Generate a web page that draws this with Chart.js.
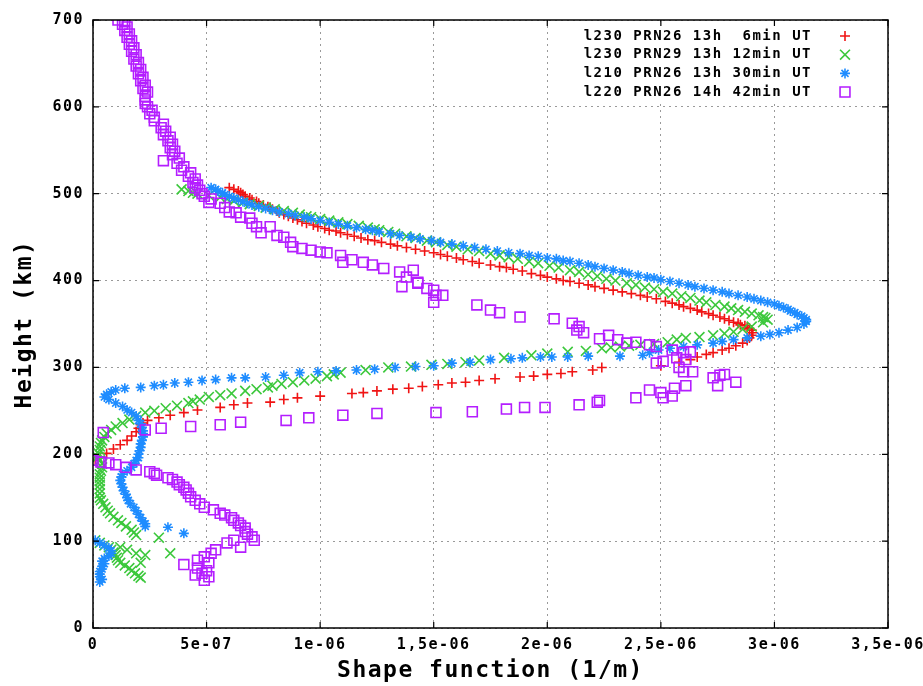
<!DOCTYPE html>
<html>
<head>
<meta charset="utf-8">
<script src="https://cdn.jsdelivr.net/npm/chart.js@4.4.1/dist/chart.umd.min.js"></script>
<style>
  html, body { margin: 0; padding: 0; background: #fff; }
  #wrap { width: 923px; height: 686px; }
</style>
</head>
<body>
<div id="wrap"><canvas id="chart" width="923" height="686"></canvas></div>
<script>
// --- 1. DATA ---
// each profile point: [height (km), shape function (x 1e-7 1/m)]
const legendLabels = [
    'l230 PRN26 13h  6min UT',
    'l230 PRN29 13h 12min UT',
    'l210 PRN26 13h 30min UT',
    'l220 PRN26 14h 42min UT'
];

const xTickValues = [0, 5e-7, 1e-6, 1.5e-6, 2e-6, 2.5e-6, 3e-6, 3.5e-6];
const xTickLabels = ['0', '5e-07', '1e-06', '1,5e-06', '2e-06', '2,5e-06', '3e-06', '3,5e-06'];
const yTickValues = [0, 100, 200, 300, 400, 500, 600, 700];
const yTickLabels = ['0', '100', '200', '300', '400', '500', '600', '700'];

const redProfile = [
    [193,0.1],[197,0.3],[201,0.6],[206,0.9],[211,1.2],[216,1.5],[221,1.7],[226,1.9],[230,2.0],[234,2.1],
    [236,2.2],[239,2.4],[242,2.9],[245,3.4],[248,4.0],[251,4.6],[254,5.6],[257,6.2],[259,6.8],[260,7.8],
    [263,8.4],[265,9.0],[267,10.0],[270,11.4],[271,11.9],[273,12.5],[275,13.2],[276,13.9],[278,14.5],[280,15.2],
    [282,15.8],[283,16.4],[285,17.0],[287,17.7],[289,18.8],[290,19.4],[292,20.0],[293,20.6],[295,21.1],[297,22.0],
    [300,22.4],[302,25.0],[306,25.8],[309,26.3],[312,26.6],[315,27.0],[317,27.3],[320,27.7],[322,28.0],[325,28.3],
    [328,28.6],[331,28.8],[334,28.9],[337,29.0],[340,29.05],[343,29.0],[346,28.8],[349,28.5],[352,28.2],[356,27.8],
    [360,27.3],[364,26.8],[368,26.3],[372,25.8],[376,25.2],[381,24.4],[385,23.7],[389,22.9],[393,22.1],[397,21.4],
    [400,20.7],[404,20.0],[408,19.3],[413,18.5],[416,17.9],[420,17.0],[424,16.3],[428,15.6],[432,15.0],[436,14.2],
    [440,13.4],[444,12.7],[447,12.1],[451,11.5],[455,10.9],[458,10.4],[462,9.9],[466,9.4],[470,9.0],[474,8.6],
    [478,8.2],[482,7.9],[485,7.7],[489,7.3],[493,7.0],[497,6.7],[501,6.5],[505,6.2],[507,6.0],
    // denser readings along the upper band
    [345,28.9],[348,28.7],[351,28.4],[354,28.0],[358,27.6],[362,27.1],[366,26.6],[370,26.0],[374,25.5],[379,24.8],
    [383,24.1],[387,23.3],[391,22.5],[395,21.8],[399,21.0],[402,20.4],[406,19.7],[411,18.9],[415,18.2],[418,17.5],
    [422,16.7],[426,16.0],[430,15.3],[434,14.6],[438,13.8],[442,13.1],[446,12.4],[449,11.8],[453,11.2],[457,10.7],
    [460,10.2],[464,9.7],[468,9.2],[472,8.8],[476,8.4],[480,8.1],[484,7.8],[487,7.5],[491,7.2],[495,6.9],[499,6.6],[503,6.4]
];

const greenProfile = [
    [58,2.1],[60,2.0],[63,1.85],[66,1.7],[69,1.6],[72,1.4],[75,1.2],[78,1.1],[81,1.05],[84,1.0],
    [87,0.9],[90,0.8],[93,0.7],[95,0.5],[98,0.3],[101,0.1],[104,2.9],[84,2.3],[86,3.4],[75,2.1],
    [93,1.2],[90,1.5],[86,1.9],
    [107,1.9],[110,1.8],[113,1.7],[117,1.45],[121,1.25],[124,1.1],[128,0.9],[132,0.75],[135,0.65],[139,0.55],
    [143,0.45],[147,0.35],[150,0.3],[155,0.3],[160,0.3],[165,0.3],[169,0.3],[173,0.3],[177,0.3],[181,0.35],
    [185,0.4],[189,0.4],[193,0.3],[197,0.2],[201,0.25],[205,0.3],[209,0.3],[213,0.35],[216,0.4],[220,0.5],
    [224,0.6],[228,0.8],[232,1.0],[236,1.3],[240,1.6],[244,1.9],[248,2.3],[250,2.7],[253,3.2],[256,3.7],
    [259,4.2],[261,4.4],[263,4.7],[266,5.1],[268,5.6],[270,6.1],[273,6.7],[275,7.2],[277,7.7],[279,7.9],
    [281,8.3],[283,8.8],[285,9.3],[287,9.8],[290,10.3],[292,10.6],[294,10.9],[297,12.0],[300,13.0],[301,14.0],
    [303,14.9],[304,15.6],[306,16.4],[308,17.0],[311,18.1],[314,19.3],[316,20.0],[318,20.9],[319,21.7],[322,22.4],
    [323,22.8],[324,23.2],[325,23.6],[326,24.1],[327,24.7],[329,25.3],[332,25.7],[334,26.1],[335,26.7],[337,27.3],
    [339,27.8],[341,28.2],[344,28.6],[347,29.0],[352,29.5],
    [355,29.7],[358,29.5],[362,29.0],[366,28.4],[370,27.8],[375,27.0],[380,26.3],[385,25.5],[390,24.7],[395,23.9],
    [400,23.0],[405,22.2],[410,21.4],[415,20.5],[420,19.6],[425,18.7],[429,17.9],[434,17.0],[439,16.0],[444,15.1],
    [449,14.2],[454,13.3],[458,12.6],[461,12.1],[465,11.2],[469,10.4],[473,9.6],[476,9.1],[480,8.4],[484,7.6],
    [488,6.9],[492,6.2],[496,5.6],[500,4.6],[503,4.2],[505,3.9],
    // denser readings along the upper band
    [357,29.6],[360,29.3],[364,28.7],[368,28.1],[372,27.4],[377,26.7],[382,25.9],[387,25.1],[392,24.3],[397,23.5],
    [402,22.6],[407,21.8],[412,21.0],[417,20.1],[422,19.2],[427,18.3],[431,17.5],[436,16.5],[441,15.6],[446,14.7],
    [451,13.8],[456,13.0],[459,12.4],[463,11.7],[467,10.8],[471,10.0],[474,9.4],[478,8.8],[482,8.0],[486,7.3],
    [490,6.6],[494,5.9],[498,5.1],[501,4.4]
];

const blueProfile = [
    [53,0.3],[56,0.4],[59,0.3],[62,0.3],[65,0.3],[68,0.4],[71,0.4],[74,0.5],[77,0.4],[80,0.5],
    [83,0.7],[86,0.8],[89,0.8],[92,0.7],[95,0.5],[98,0.3],[101,0.1],[116,3.3],[109,4.0],
    [117,2.3],[120,2.3],[123,2.2],[127,2.1],[131,2.0],[135,1.9],[139,1.8],[143,1.65],[147,1.55],[150,1.5],
    [154,1.45],[158,1.35],[162,1.3],[166,1.25],[170,1.2],[174,1.25],[177,1.3],[181,1.5],[185,1.7],[189,1.8],
    [193,1.9],[196,2.0],[200,2.0],[204,2.05],[208,2.1],[212,2.1],[216,2.15],[220,2.2],[224,2.2],[227,2.2],
    [231,2.15],[235,2.1],[239,2.0],[244,1.9],[248,1.7],[251,1.5],[255,1.3],[259,1.0],[263,0.7],[266,0.5],
    [269,0.6],[272,0.8],[274,1.0],[276,1.4],[277,2.1],[279,2.7],[280,3.1],[282,3.6],[283,4.2],[285,4.8],
    [286,5.4],[288,6.1],[288,6.7],[289,7.6],[291,8.4],[294,9.1],[295,9.9],[296,10.7],[297,11.6],[298,12.4],
    [300,13.3],[301,14.2],[302,15.0],[305,15.8],[306,16.6],[309,17.5],[310,18.4],[311,18.9],[312,19.7],[312,20.2],
    [312,20.9],[313,21.8],[313,23.2],[314,24.2],[317,24.5],[320,24.9],[322,25.4],[324,26.0],[326,26.6],[328,27.3],
    [330,27.7],[332,28.2],[334,28.8],[336,29.4],[338,29.8],[340,30.2],[343,30.6],[346,31.0],[350,31.3],
    [353,31.4],[357,31.3],[361,31.0],[365,30.7],[369,30.4],[373,30.0],[377,29.4],[381,28.8],[385,28.0],[389,27.3],
    [393,26.5],[397,25.8],[401,25.0],[404,24.4],[408,23.6],[412,22.9],[416,22.1],[420,21.4],[423,20.7],[426,20.0],
    [429,19.2],[432,18.3],[436,17.3],[440,16.3],[444,15.3],[448,14.4],[452,13.5],[456,12.6],[459,12.0],[463,11.2],
    [467,10.4],[471,9.6],[475,8.9],[479,8.2],[483,7.6],[487,7.0],[491,6.6],[495,6.2],[499,5.8],[503,5.5],[507,5.2],
    // denser readings along the upper band
    [355,31.4],[359,31.2],[363,30.9],[367,30.6],[371,30.2],[375,29.7],[379,29.1],[383,28.4],[387,27.7],[391,26.9],
    [395,26.2],[399,25.4],[403,24.7],[406,24.0],[410,23.3],[414,22.5],[418,21.8],[422,21.0],[425,20.4],[428,19.6],
    [431,18.8],[434,17.8],[438,16.8],[442,15.8],[446,14.9],[450,14.0],[454,13.1],[458,12.3],[461,11.6],[465,10.8],
    [469,10.0],[473,9.3],[477,8.6],[481,7.9],[485,7.3],[489,6.8],[493,6.4],[497,6.0],[501,5.7],[505,5.4]
];

const purpleProfile = [
    [55,4.9],[59,5.1],[61,4.5],[63,4.8],[66,5.0],[69,4.6],[73,4.0],[75,5.1],[78,4.6],[82,4.9],
    [86,5.2],[90,5.4],[93,6.5],[98,5.9],[101,6.2],[101,7.1],[105,7.0],[108,6.8],[111,6.7],[115,6.7],
    [118,6.5],[121,6.4],[124,6.2],[127,6.1],[130,5.8],[132,5.6],[136,5.3],[139,4.9],[143,4.7],[147,4.5],
    [151,4.3],[155,4.2],[159,4.1],[162,4.0],[165,3.8],[168,3.7],[171,3.5],[173,3.3],[176,2.8],[178,2.7],
    [180,2.5],[182,1.9],[185,1.45],[188,1.0],[190,0.7],[191,0.35],[193,0.0],[225,0.45],
    [228,2.3],[230,3.0],[232,4.3],[234,5.6],[237,6.5],[239,8.5],[242,9.5],[245,11.0],[247,12.5],[248,15.1],
    [249,16.7],[252,18.2],[254,19.0],[254,19.9],[257,21.4],[260,22.2],[262,22.3],[265,23.9],[265,25.1],[267,25.5],
    [271,25.0],[274,24.5],[276,25.6],[279,26.1],[279,27.5],[283,28.3],[288,27.3],[291,27.6],[292,27.8],[295,26.0],
    [295,26.4],[300,25.8],[305,24.8],[307,25.1],[309,26.1],[311,25.7],[317,26.0],[318,26.3],[320,25.5],[324,24.8],
    [326,24.5],[328,23.5],[329,23.9],[332,23.1],[333,22.3],[337,22.7],[340,21.6],[343,21.3],[347,21.4],[351,21.1],
    [356,20.3],[358,18.8],[363,17.9],[366,17.5],[372,16.9],[375,15.0],[383,15.4],[383,15.1],[389,15.0],[391,14.7],
    [393,13.6],[397,14.3],[398,14.3],[404,13.8],[410,13.5],[412,14.1],[414,12.8],[418,12.3],[421,11.9],[421,11.0],
    [424,11.4],[429,10.9],[432,10.3],[433,10.0],[435,9.6],[437,9.2],[439,8.8],[444,8.7],[450,8.4],[452,8.1],
    [455,7.4],[462,7.8],[462,7.2],[466,7.0],[472,6.9],[473,6.5],[478,6.3],[479,6.0],[484,5.8],[489,5.6],
    [490,5.1],[494,5.2],[497,4.9],[500,4.8],
    [504,4.7],[507,4.5],[510,4.6],[513,4.4],[517,4.5],[520,4.2],[524,4.3],[527,3.9],[531,4.0],[535,3.7],
    [538,3.1],[541,3.8],[545,3.5],[549,3.6],[553,3.4],[557,3.5],[561,3.3],[565,3.4],[568,3.1],[572,3.2],
    [576,3.0],[580,3.1],[584,2.7],[588,2.7],[592,2.5],[596,2.6],[600,2.4],[604,2.3],[608,2.3],[612,2.3],
    [617,2.4],[621,2.2],[625,2.3],[630,2.1],[634,2.2],[638,2.0],[643,2.1],[647,1.9],[651,2.0],[655,1.8],
    [660,1.9],[664,1.7],[668,1.8],[672,1.6],[676,1.7],[680,1.5],[684,1.6],[688,1.4],[692,1.5],[695,1.3],
    [698,1.4],[700,1.1]
];

// --- 2. STYLES ---
const seriesStyles = [
    { color: '#f01414', pointStyle: 'cross',    radius: 5, order: 4 },
    { color: '#3cc83c', pointStyle: 'crossRot', radius: 7, order: 3 },
    { color: '#1e8cff', pointStyle: 'star',     radius: 5, order: 2 },
    { color: '#b41eff', pointStyle: 'rect',     radius: 7, order: 1 }
];
const FONT = '"DejaVu Sans Mono", monospace';

function toPoints(profile) {
    return profile.map(p => ({ x: p[1] * 1e-7, y: p[0] }));
}

const profiles = [redProfile, greenProfile, blueProfile, purpleProfile];
const datasets = profiles.map((prof, i) => ({
    label: legendLabels[i],
    data: toPoints(prof),
    showLine: false,
    pointStyle: seriesStyles[i].pointStyle,
    pointRadius: seriesStyles[i].radius,
    pointBorderWidth: 1.6,
    borderColor: seriesStyles[i].color,
    backgroundColor: 'rgba(0,0,0,0)',
    order: seriesStyles[i].order
}));

// --- 3. PLUGINS (frame, inner ticks, gnuplot-style key) ---
const spacingPlugin = {
    id: 'spacing',
    beforeLayout(chart) { chart.ctx.letterSpacing = '1.5px'; },
    beforeDraw(chart) { chart.ctx.letterSpacing = '1.5px'; }
};

const framePlugin = {
    id: 'frame',
    afterDraw(chart) {
        const { ctx, chartArea: a, scales } = chart;
        ctx.save();
        // opaque key box
        ctx.fillStyle = '#fff';
        ctx.fillRect(576, a.top + 2, a.right - 578, 80);

        ctx.strokeStyle = '#000';
        ctx.lineWidth = 1.5;
        ctx.strokeRect(a.left, a.top, a.right - a.left, a.bottom - a.top);
        ctx.lineWidth = 1.2;
        ctx.beginPath();
        xTickValues.forEach(v => {
            const px = scales.x.getPixelForValue(v);
            ctx.moveTo(px, a.bottom); ctx.lineTo(px, a.bottom - 6);
            ctx.moveTo(px, a.top); ctx.lineTo(px, a.top + 6);
        });
        yTickValues.forEach(v => {
            const py = scales.y.getPixelForValue(v);
            ctx.moveTo(a.left, py); ctx.lineTo(a.left + 6, py);
            ctx.moveTo(a.right, py); ctx.lineTo(a.right - 6, py);
        });
        ctx.stroke();

        // key entries
        ctx.font = 'bold 14px ' + FONT;
        ctx.textAlign = 'right';
        ctx.textBaseline = 'middle';
        const rowY = [36, 54.7, 73.4, 92];
        legendLabels.forEach((txt, i) => {
            ctx.fillStyle = '#000';
            ctx.fillText(txt, 812, rowY[i]);
            ctx.strokeStyle = seriesStyles[i].color;
            ctx.fillStyle = 'rgba(0,0,0,0)';
            ctx.lineWidth = 1.6;
            Chart.helpers.drawPoint(ctx, {
                pointStyle: seriesStyles[i].pointStyle,
                radius: seriesStyles[i].radius,
                borderWidth: 1.6,
                rotation: 0
            }, 845, rowY[i]);
        });
        ctx.restore();
    }
};

// --- 4. CHART ---
const tickFont = { family: FONT, size: 15, weight: 'bold' };
const titleFont = { family: FONT, size: 23, weight: 'bold' };

new Chart(document.getElementById('chart'), {
    type: 'scatter',
    data: { datasets: datasets },
    options: {
        responsive: false,
        animation: false,
        events: [],
        layout: { padding: { top: 20, right: 35, bottom: 0, left: 0 }, autoPadding: false },
        plugins: { legend: { display: false }, tooltip: { enabled: false } },
        scales: {
            x: {
                type: 'linear', min: 0, max: 3.5e-6,
                afterBuildTicks: s => { s.ticks = xTickValues.map(v => ({ value: v })); },
                afterFit: s => { s.height = 58; s.paddingLeft = 0; s.paddingRight = 0; },
                ticks: {
                    callback: (v, i) => xTickLabels[i],
                    maxRotation: 0, minRotation: 0, autoSkip: false,
                    padding: 8, color: '#000', font: tickFont
                },
                grid: { color: '#9a9a9a', lineWidth: 1, drawTicks: false },
                border: { display: false, dash: [2, 4] },
                title: { display: true, text: 'Shape function (1/m)', color: '#000', font: titleFont, padding: { top: 0, bottom: 1 } }
            },
            y: {
                type: 'linear', min: 0, max: 700,
                afterBuildTicks: s => { s.ticks = yTickValues.map(v => ({ value: v })); },
                afterFit: s => { s.width = 93; s.paddingTop = 0; s.paddingBottom = 0; },
                ticks: {
                    callback: (v, i) => yTickLabels[i],
                    padding: 9, color: '#000', font: tickFont
                },
                grid: { color: '#9a9a9a', lineWidth: 1, drawTicks: false },
                border: { display: false, dash: [2, 4] },
                title: { display: true, text: 'Height (km)', color: '#000', font: titleFont, padding: { top: 11, bottom: 0 } }
            }
        }
    },
    plugins: [spacingPlugin, framePlugin]
});
</script>
</body>
</html>
